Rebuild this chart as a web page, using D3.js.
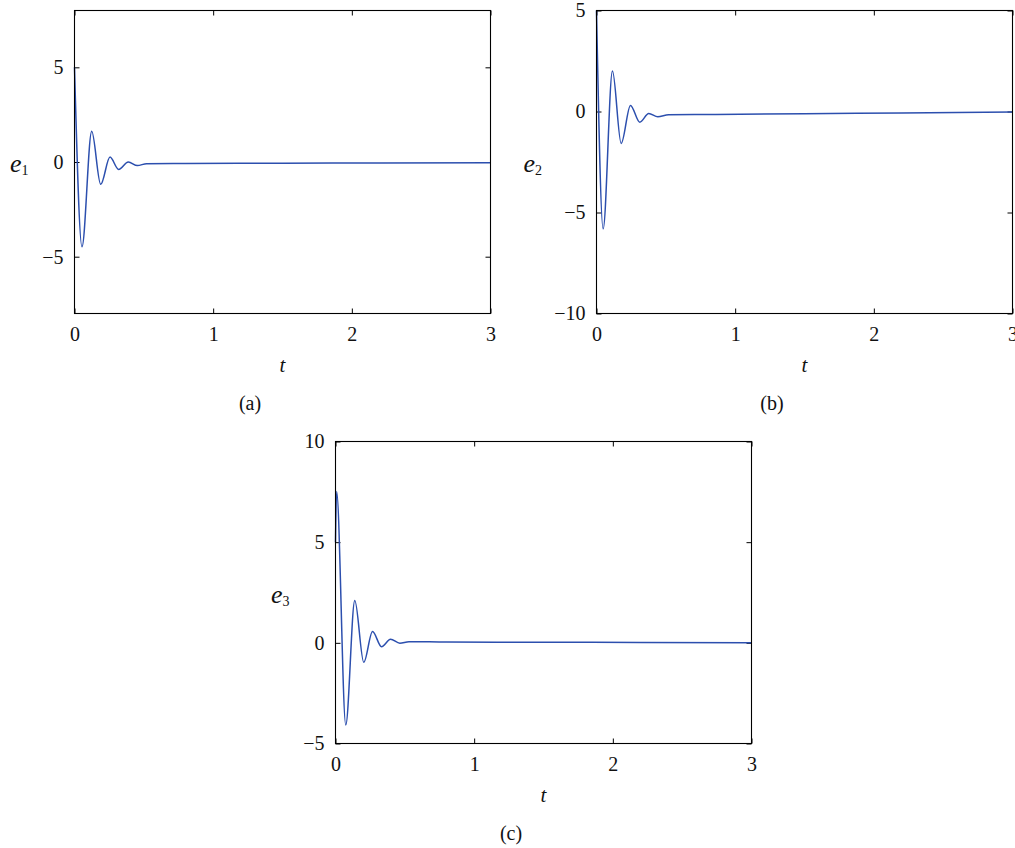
<!DOCTYPE html>
<html>
<head>
<meta charset="utf-8">
<script src="https://cdn.jsdelivr.net/npm/d3@7"></script>
<style>
    body { margin: 0; background: #fff; }
    svg { display: block; }
</style>
</head>
<body>
<div id="chart"></div>
<script>
// values (time, error)
const tA = [0, 0.054, 0.124, 0.189, 0.256, 0.318, 0.388, 0.453, 0.52, 0.8, 1.5, 2.2, 3];
const e1 = [5, -4.48, 1.62, -1.18, 0.26, -0.39, 0.0, -0.19, -0.09, -0.08, -0.06, -0.05, -0.04];

const tB = [0, 0.048, 0.115, 0.178, 0.245, 0.312, 0.377, 0.442, 0.52, 0.8, 1.5, 2.2, 3];
const e2 = [5, -5.81, 2.0, -1.58, 0.30, -0.53, -0.10, -0.26, -0.16, -0.15, -0.11, -0.07, -0.03];

const tC = [0, 0.008, 0.074, 0.139, 0.204, 0.267, 0.332, 0.397, 0.464, 0.53, 0.8, 1.5, 2.2, 3];
const e3 = [5.0, 7.52, -4.08, 2.1, -0.97, 0.56, -0.19, 0.18, -0.02, 0.06, 0.04, 0.03, 0.02, 0.01];

const xTicks = [0, 1, 2, 3];
const yTicksA = [-5, 0, 5];
const yTicksB = [-10, -5, 0, 5];
const yTicksC = [-5, 0, 5, 10];
const yDomainA = [-8, 8];
const yDomainB = [-10, 5];
const yDomainC = [-5, 10];
const panelTags = ["(a)", "(b)", "(c)"];

const width = 1015;
const height = 848;
const lineColor = "#2c4fae";
const serif = "'Liberation Serif', 'DejaVu Serif', serif";

const svg = d3.select("#chart")
    .append("svg")
    .attr("width", width)
    .attr("height", height)
    .style("font-family", serif);

function drawPanel(box, t, e, yDomain, yTicks, sub, tag, labelGap) {
    const x = d3.scaleLinear().domain([0, 3]).range([box.left, box.right]);
    const y = d3.scaleLinear().domain(yDomain).range([box.bottom, box.top]);
    const g = svg.append("g");

    const fmt = d3.format("d");

    // inward ticks on all four sides, labels only left/bottom
    g.append("g")
        .attr("transform", `translate(0,${box.bottom})`)
        .call(d3.axisBottom(x).tickValues(xTicks).tickFormat(fmt).tickSize(-5).tickPadding(13))
        .call(a => a.select(".domain").remove());
    g.append("g")
        .attr("transform", `translate(0,${box.top})`)
        .call(d3.axisTop(x).tickValues(xTicks).tickFormat("").tickSize(-5))
        .call(a => a.select(".domain").remove());
    g.append("g")
        .attr("transform", `translate(${box.left},0)`)
        .call(d3.axisLeft(y).tickValues(yTicks).tickFormat(fmt).tickSize(-5).tickPadding(11))
        .call(a => a.select(".domain").remove());
    g.append("g")
        .attr("transform", `translate(${box.right},0)`)
        .call(d3.axisRight(y).tickValues(yTicks).tickFormat("").tickSize(-5))
        .call(a => a.select(".domain").remove());

    g.selectAll(".tick text")
        .attr("font-family", serif)
        .attr("font-size", 20)
        .attr("fill", "#111");
    g.selectAll(".tick line").attr("stroke", "#000");

    const pts = t.map((d, i) => [d, e[i]]);
    const line = d3.line()
        .x(d => x(d[0]))
        .y(d => y(d[1]))
        .curve(d3.curveMonotoneX);

    g.append("path")
        .datum(pts)
        .attr("fill", "none")
        .attr("stroke", lineColor)
        .attr("stroke-width", 1.5)
        .attr("d", line);

    g.append("rect")
        .attr("x", box.left)
        .attr("y", box.top)
        .attr("width", box.right - box.left)
        .attr("height", box.bottom - box.top)
        .attr("fill", "none")
        .attr("stroke", "#000")
        .attr("stroke-width", 1.1);

    const cx = (box.left + box.right) / 2;
    const cy = (box.top + box.bottom) / 2;

    // y label e_n
    const yl = g.append("text")
        .attr("x", box.left - labelGap)
        .attr("y", cy + 10)
        .attr("fill", "#111");
    yl.append("tspan").attr("font-style", "italic").attr("font-size", 26).text("e");
    yl.append("tspan").attr("font-size", 14).attr("dy", 3).text(sub);

    g.append("text")
        .attr("x", cx)
        .attr("y", box.bottom + 58)
        .attr("text-anchor", "middle")
        .attr("font-style", "italic")
        .attr("font-size", 21)
        .attr("fill", "#111")
        .text("t");

    g.append("text")
        .attr("x", cx - 32.5)
        .attr("y", box.bottom + 96)
        .attr("text-anchor", "middle")
        .attr("font-size", 20)
        .attr("fill", "#111")
        .text(tag);
}

drawPanel({left: 74.5, right: 490.5, top: 10.5, bottom: 313.5}, tA, e1, yDomainA, yTicksA, "1", panelTags[0], 64.5);
drawPanel({left: 596.5, right: 1012.5, top: 10.5, bottom: 313.5}, tB, e2, yDomainB, yTicksB, "2", panelTags[1], 73);
drawPanel({left: 335.5, right: 751.5, top: 441.5, bottom: 743.5}, tC, e3, yDomainC, yTicksC, "3", panelTags[2], 64.5);
</script>
</body>
</html>
